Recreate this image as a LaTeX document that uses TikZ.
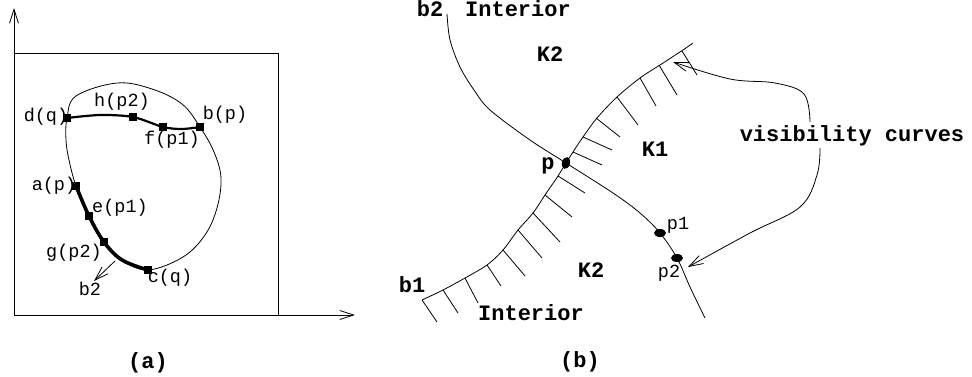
\documentclass[tikz,border=0pt]{standalone}
\usepackage{fontspec}
\setmonofont{Liberation Mono}
\usetikzlibrary{arrows.meta,shapes.geometric}
\begin{document}
\begin{tikzpicture}[x=1pt,y=-1pt,
  thinl/.style={line width=0.8pt},
  arr/.style={line width=0.8pt,-{Straight Barb[length=14pt,width=9pt]}},
  lab/.style={font=\fontsize{18.5}{20}\selectfont\ttfamily,inner sep=0,anchor=base},
  blab/.style={font=\fontsize{22}{24}\selectfont\ttfamily\bfseries,inner sep=0,anchor=base},
  sq/.style={rectangle,fill=black,minimum size=7.5pt,inner sep=0},
  dotv/.style={ellipse,fill=black,inner sep=0,minimum width=8pt,minimum height=12pt},
  doth/.style={ellipse,fill=black,inner sep=0,minimum width=12pt,minimum height=8pt}]
\useasboundingbox (0,0) rectangle (972,377);
% ---------- panel (a) ----------
\coordinate (o) at (14,315);
\coordinate (xe) at (355,315);
\coordinate (ye) at (14,8);
\draw[arr] (o) -- (xe);
\draw[arr] (o) -- (ye);
\draw[thinl] (14,53) -- (278,53) -- (278,315);
\coordinate (d) at (67,118);
\coordinate (h) at (133,117);
\coordinate (f) at (163,127);
\coordinate (b) at (200,127);
\coordinate (a) at (76,186);
\coordinate (e) at (89,216);
\coordinate (g) at (104,242);
\coordinate (c) at (148,270);
\draw[thinl] plot[smooth cycle,tension=0.6] coordinates {(d) (76,96) (117,83) (152,89) (182,104) (b) (214,152) (221,178) (217,208) (205,235) (183,257) (c) (122,260) (g) (e) (a) (69,160) (66,140)};
\draw[line width=3.6pt] plot[smooth,tension=0.6] coordinates {(a) (e) (g) (122,260) (c)};
\draw[line width=2.2pt] plot[smooth,tension=0.5] coordinates {(d) (100,115) (h) (f) (182,129) (b)};
\foreach \n in {d,h,f,b,a,e,g,c} \node[sq] (s\n) at (\n) {};
\coordinate (b2s) at (115,261);
\coordinate (b2e) at (94,281);
\draw[arr] (b2s) -- (b2e);
\node[lab] (ld) at (46,122) {d(q)};
\node[lab] (lh) at (122,107) {h(p2)};
\node[lab] (lb) at (225,120) {b(p)};
\node[lab] (lf) at (172,145) {f(p1)};
\node[lab] (la) at (54,190) {a(p)};
\node[lab] (le) at (120,212) {e(p1)};
\node[lab] (lg) at (74,257) {g(p2)};
\node[lab] (lc) at (170,282) {c(q)};
\node[lab] (lb2) at (90,295) {b2};
\node[blab] (capa) at (148,368) {(a)};
% ---------- panel (b) ----------
\draw[thinl] plot[smooth,tension=0.55] coordinates {(447,14) (450,40) (460,67) (474,90) (490,110) (530,140) (566,163) (613,193) (640,213) (660,233) (677,258) (690,287) (705,318)};
\draw[thinl] plot[smooth,tension=0.55] coordinates {(422,300) (443,290) (465,278) (487,265) (503,250) (518,230) (533,213) (545,195) (558,176) (566,163) (573,152) (583,137) (597,118) (617,97) (640,78) (660,65) (683,50) (693,43)};
\foreach \xa/\ya/\xb/\yb in {422/300/437/322,443/290/458/313,465/278/478/303,487/265/501/286,503/250/525/276,518/230/542/258,533/213/560/242,545/195/572/217,558/176/585/193,573/152/602/165,583/137/612/150,596/118/620/137,617/97/638/125,640/78/656/106,659/65/677/95,682/51/697/75}
  \draw[thinl] (\xa,\ya) -- (\xb,\yb);
\node[dotv,rotate=-15] (pp) at (566,163) {};
\node[doth] (pp1) at (660,233) {};
\node[doth] (pp2) at (677,258) {};
\node[blab] (rb2) at (430,17) {b2};
\node[blab] (int1) at (518,17) {Interior};
\node[blab] (k2a) at (550,62) {K2};
\node[blab] (k1) at (655,157) {K1};
\node[blab] (lp) at (548,170) {p};
\node[blab] (k2b) at (591,277) {K2};
\node[blab] (rb1) at (412,292) {b1};
\node[blab] (int2) at (531,320) {Interior};
\node[lab] (lp1) at (678,229) {p1};
\node[lab] (lp2) at (669,277) {p2};
\node[blab] (vis) at (852,142) {visibility curves};
\coordinate (v1) at (810,122);
\coordinate (v2) at (820,148);
\coordinate (t1) at (673,62);
\coordinate (t2) at (688,267);
\draw[arr] plot[smooth,tension=0.6] coordinates {(v1) (804,94) (775,83) (730,79) (t1)};
\draw[arr] plot[smooth,tension=0.6] coordinates {(v2) (817,175) (800,207) (750,233) (t2)};
\node[blab] (capb) at (580,367) {(b)};
\end{tikzpicture}
\end{document}
